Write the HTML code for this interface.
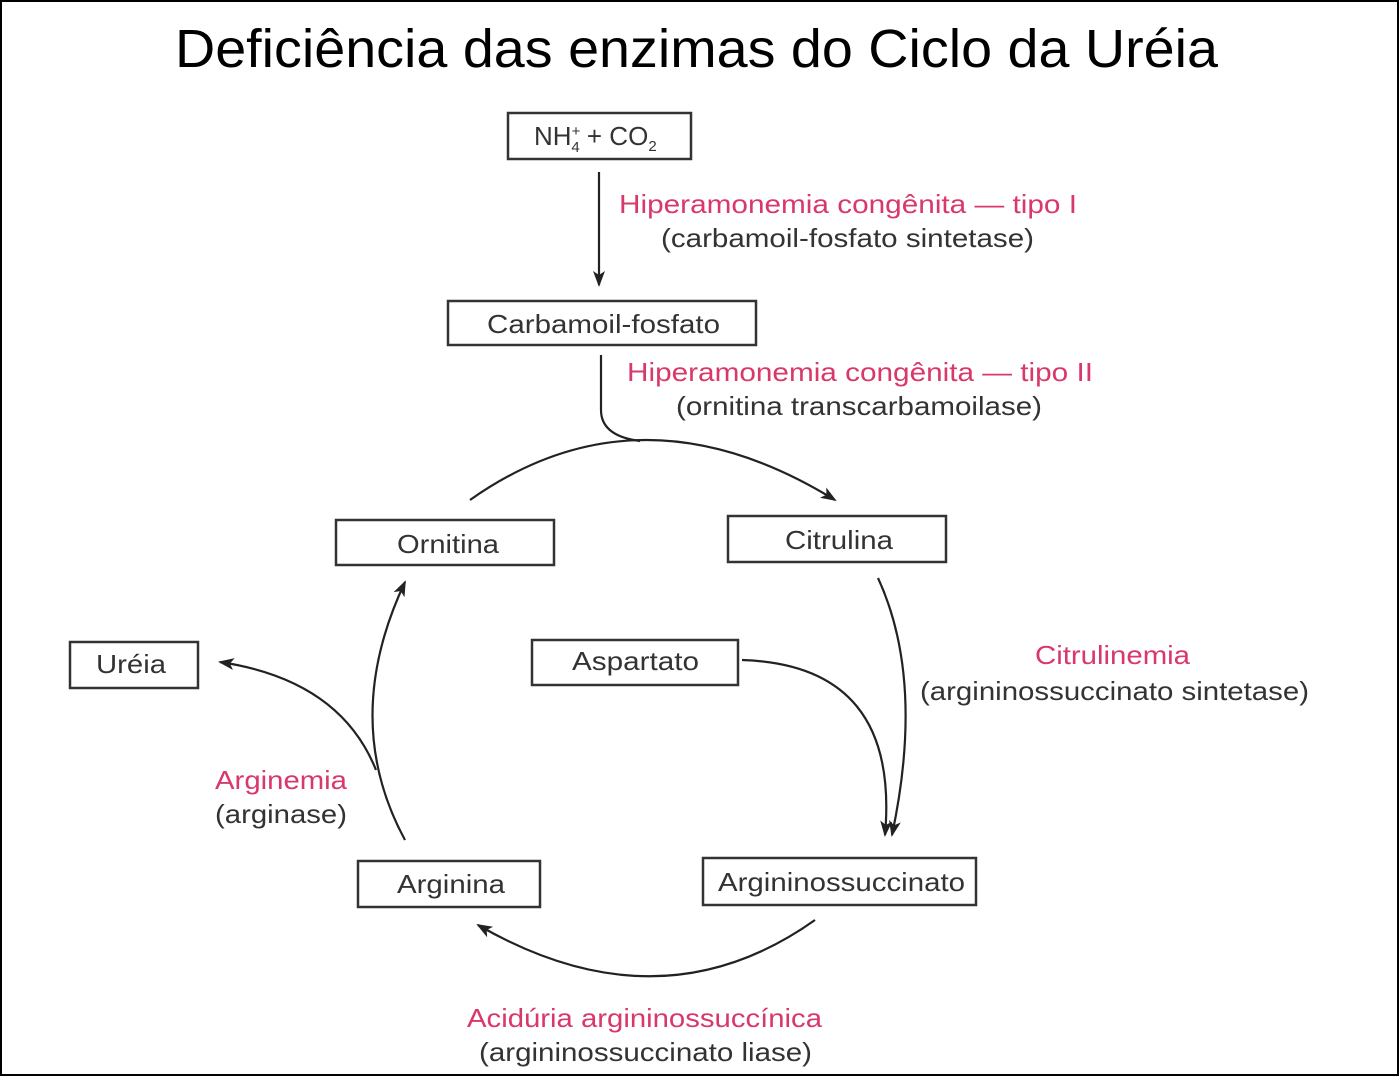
<!DOCTYPE html>
<html><head><meta charset="utf-8"><style>
html,body{margin:0;padding:0;background:#fff}
svg{display:block}
text{font-family:"Liberation Sans",sans-serif}
</style></head><body>
<svg width="1399" height="1076" viewBox="0 0 1399 1076" xmlns="http://www.w3.org/2000/svg">
<defs>
<marker id="a" markerWidth="16" markerHeight="16" refX="14" refY="8" orient="auto" markerUnits="userSpaceOnUse" viewBox="0 0 16 16">
<path d="M0,2 L16,8 L0,14 L4,8 z" fill="#222"/></marker>
</defs>
<rect x="1" y="1" width="1397" height="1074" fill="#fff" stroke="#000" stroke-width="2"/>
<text x="175" y="67" font-size="54" textLength="1043" lengthAdjust="spacingAndGlyphs" fill="#000">Deficiência das enzimas do Ciclo da Uréia</text>
<g fill="#fff" stroke="#333" stroke-width="2.5">
<rect x="508" y="113" width="183" height="46"/>
<rect x="448" y="301" width="308" height="44"/>
<rect x="336" y="520" width="218" height="45"/>
<rect x="728" y="516" width="218" height="46"/>
<rect x="532" y="640" width="206" height="45"/>
<rect x="70" y="642" width="128" height="46"/>
<rect x="358" y="861" width="182" height="46"/>
<rect x="703" y="858" width="273" height="47"/>
</g>
<g font-size="26" fill="#333">
<text x="534" y="145">NH<tspan font-size="15" dy="-9">+</tspan><tspan font-size="15" dx="-9" dy="16">4</tspan><tspan dy="-7"> + CO</tspan><tspan font-size="15" dy="6">2</tspan></text>
<text x="487" y="333" textLength="233" lengthAdjust="spacingAndGlyphs">Carbamoil-fosfato</text>
<text x="397" y="553" textLength="102" lengthAdjust="spacingAndGlyphs">Ornitina</text>
<text x="785" y="549" textLength="108" lengthAdjust="spacingAndGlyphs">Citrulina</text>
<text x="572" y="670" textLength="127" lengthAdjust="spacingAndGlyphs">Aspartato</text>
<text x="96" y="673" textLength="70" lengthAdjust="spacingAndGlyphs">Uréia</text>
<text x="397" y="893" textLength="108" lengthAdjust="spacingAndGlyphs">Arginina</text>
<text x="718" y="891" textLength="247" lengthAdjust="spacingAndGlyphs">Argininossuccinato</text>
</g>
<g font-size="26">
<text x="619" y="213" fill="#d8386a" textLength="458" lengthAdjust="spacingAndGlyphs">Hiperamonemia congênita — tipo I</text>
<text x="661" y="247" fill="#333" textLength="373" lengthAdjust="spacingAndGlyphs">(carbamoil-fosfato sintetase)</text>
<text x="627" y="381" fill="#d8386a" textLength="466" lengthAdjust="spacingAndGlyphs">Hiperamonemia congênita — tipo II</text>
<text x="676" y="415" fill="#333" textLength="366" lengthAdjust="spacingAndGlyphs">(ornitina transcarbamoilase)</text>
<text x="1035" y="664" fill="#d8386a" textLength="155" lengthAdjust="spacingAndGlyphs">Citrulinemia</text>
<text x="920" y="700" fill="#333" textLength="389" lengthAdjust="spacingAndGlyphs">(argininossuccinato sintetase)</text>
<text x="215" y="789" fill="#d8386a" textLength="132" lengthAdjust="spacingAndGlyphs">Arginemia</text>
<text x="215" y="823" fill="#333" textLength="132" lengthAdjust="spacingAndGlyphs">(arginase)</text>
<text x="467" y="1027" fill="#d8386a" textLength="355" lengthAdjust="spacingAndGlyphs">Acidúria argininossuccínica</text>
<text x="479" y="1061" fill="#333" textLength="333" lengthAdjust="spacingAndGlyphs">(argininossuccinato liase)</text>
</g>
<g fill="none" stroke="#222" stroke-width="2.2">
<path d="M599,172 L599,285" marker-end="url(#a)"/>
<path d="M601,355 L601,410 Q601,436 640,441"/>
<path d="M470,500 Q640,380 835,500" marker-end="url(#a)"/>
<path d="M878,578 Q925,680 892,835" marker-end="url(#a)"/>
<path d="M742,660 Q900,665 885,835" marker-end="url(#a)"/>
<path d="M815,920 Q660,1030 478,925" marker-end="url(#a)"/>
<path d="M405,840 Q340,720 405,582" marker-end="url(#a)"/>
<path d="M376,770 Q340,680 220,662" marker-end="url(#a)"/>
</g>
</svg>
</body></html>
